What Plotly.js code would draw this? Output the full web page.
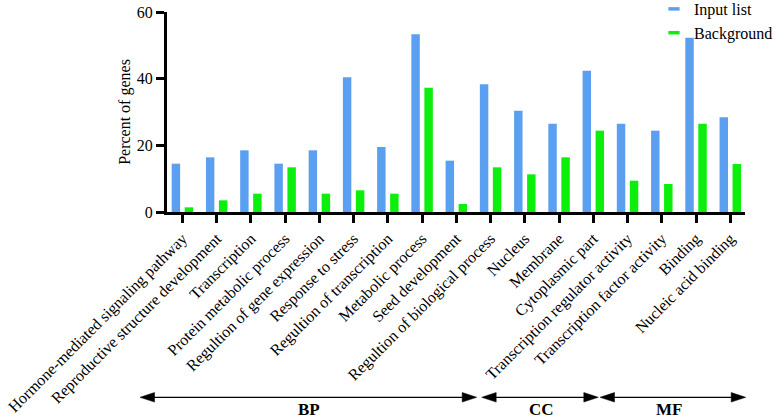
<!DOCTYPE html>
<html>
<head>
<meta charset="utf-8">
<script src="https://cdn.plot.ly/plotly-3.0.1.min.js"></script>
<style>html,body{margin:0;padding:0;background:#fff;}#chart{width:776px;height:418px;}</style>
</head>
<body>
<div id="chart"></div>
<script>
const categories = [
  "Hormone-mediated signaling pathway",
  "Reproductive structure development",
  "Transcription",
  "Protein metabolic process",
  "Regultion of gene expression",
  "Response to stress",
  "Regultion of transcription",
  "Metabolic process",
  "Seed development",
  "Regultion of biological process",
  "Nucleus",
  "Membrane",
  "Cytoplasmic part",
  "Transcription regulator activity",
  "Transcription factor activity",
  "Binding",
  "Nucleic acid binding"
];
const inputList  = [14.5, 16.4, 18.5, 14.5, 18.5, 40.4, 19.5, 53.3, 15.4, 38.3, 30.4, 26.5, 42.4, 26.5, 24.4, 52.3, 28.4];
const background = [1.4, 3.5, 5.5, 13.4, 5.5, 6.5, 5.5, 37.3, 2.4, 13.4, 11.3, 16.4, 24.4, 9.4, 8.4, 26.5, 14.4];
const seriesNames = ["Input list", "Background"];
const groupLabels = ["BP", "CC", "MF"];

const BLUE = "#5BA0F0", GREEN = "#0CEE0C";
const FONT = "'Liberation Serif', 'Times New Roman', Times, serif";

// layout helpers (pixel -> paper)
const L = 167, R = 31, T = 12, B = 206, W = 776, H = 418;
const pw = W - L - R, ph = H - T - B;
const px = v => (v - L) / pw;
const py = v => (H - B - v) / ph;

const traces = [
  {type: "bar", x: categories, y: inputList, name: seriesNames[0], marker: {color: BLUE}, showlegend: false, legendgroup: "a"},
  {type: "bar", x: categories, y: background, name: seriesNames[1], marker: {color: GREEN}, showlegend: false, legendgroup: "b"},
  {type: "scatter", mode: "markers", x: [null], y: [null], name: seriesNames[0], legendgroup: "a",
   marker: {symbol: "line-ew-open", size: 8, color: BLUE, line: {color: BLUE, width: 3.5}}},
  {type: "scatter", mode: "markers", x: [null], y: [null], name: seriesNames[1], legendgroup: "b",
   marker: {symbol: "line-ew-open", size: 8, color: GREEN, line: {color: GREEN, width: 3.5}}}
];

// bracket arrows under the category labels
const arrows = [
  {x0: 140, x1: 476.7, label: groupLabels[0], lx: 309},
  {x0: 481.7, x1: 598.3, label: groupLabels[1], lx: 541},
  {x0: 600, x1: 745.7, label: groupLabels[2], lx: 669}
];
const yLine = 397.3, headLen = 14.5, headHalf = 4.8;
const shapes = [];
const annotations = [];
arrows.forEach(a => {
  shapes.push({type: "line", xref: "paper", yref: "paper",
    x0: px(a.x0 + headLen - 1), x1: px(a.x1 - headLen + 1), y0: py(yLine), y1: py(yLine),
    line: {color: "#000", width: 1.3}});
  shapes.push({type: "path", xref: "paper", yref: "paper", fillcolor: "#000", line: {color: "#000", width: 0.5},
    path: `M${px(a.x0)},${py(yLine)} L${px(a.x0 + headLen)},${py(yLine - headHalf)} L${px(a.x0 + headLen)},${py(yLine + headHalf)} Z`});
  shapes.push({type: "path", xref: "paper", yref: "paper", fillcolor: "#000", line: {color: "#000", width: 0.5},
    path: `M${px(a.x1)},${py(yLine)} L${px(a.x1 - headLen)},${py(yLine - headHalf)} L${px(a.x1 - headLen)},${py(yLine + headHalf)} Z`});
  annotations.push({xref: "paper", yref: "paper", x: px(a.lx), y: py(409), xanchor: "center", yanchor: "middle",
    showarrow: false, text: "<b>" + a.label + "</b>", font: {family: FONT, size: 17, color: "#000"}});
});

const layout = {
  width: W, height: H,
  margin: {l: L, r: R, t: T, b: B, pad: 0, autoexpand: false},
  paper_bgcolor: "#fff", plot_bgcolor: "#fff",
  font: {family: FONT, size: 16, color: "#000"},
  barmode: "group", bargap: 0.24, bargroupgap: 0.35,
  showlegend: true,
  legend: {xref: "paper", yref: "paper", x: px(654), y: py(-8), xanchor: "left", yanchor: "top",
    bgcolor: "rgba(0,0,0,0)", borderwidth: 0,
    font: {family: FONT, size: 16, color: "#000"}, itemsizing: "trace", tracegroupgap: 0},
  xaxis: {
    type: "category", range: [-0.45, 16.43], tickangle: -45,
    showline: true, linecolor: "#000", linewidth: 3,
    ticks: "outside", ticklen: 8, tickwidth: 3, tickcolor: "#000",
    showgrid: false, zeroline: false, automargin: false,
    tickfont: {family: FONT, size: 16, color: "#000"}
  },
  yaxis: {
    range: [0, 60], tickvals: [0, 20, 40, 60],
    showline: true, linecolor: "#000", linewidth: 3,
    ticks: "outside", ticklen: 8, tickwidth: 3, tickcolor: "#000",
    showgrid: false, zeroline: false, automargin: false,
    tickfont: {family: FONT, size: 16, color: "#000"},
    title: {text: "Percent of genes", font: {family: FONT, size: 16, color: "#000"}, standoff: 3}
  },
  shapes: shapes,
  annotations: annotations
};

Plotly.newPlot("chart", traces, layout, {displayModeBar: false, staticPlot: true});
</script>
</body>
</html>
